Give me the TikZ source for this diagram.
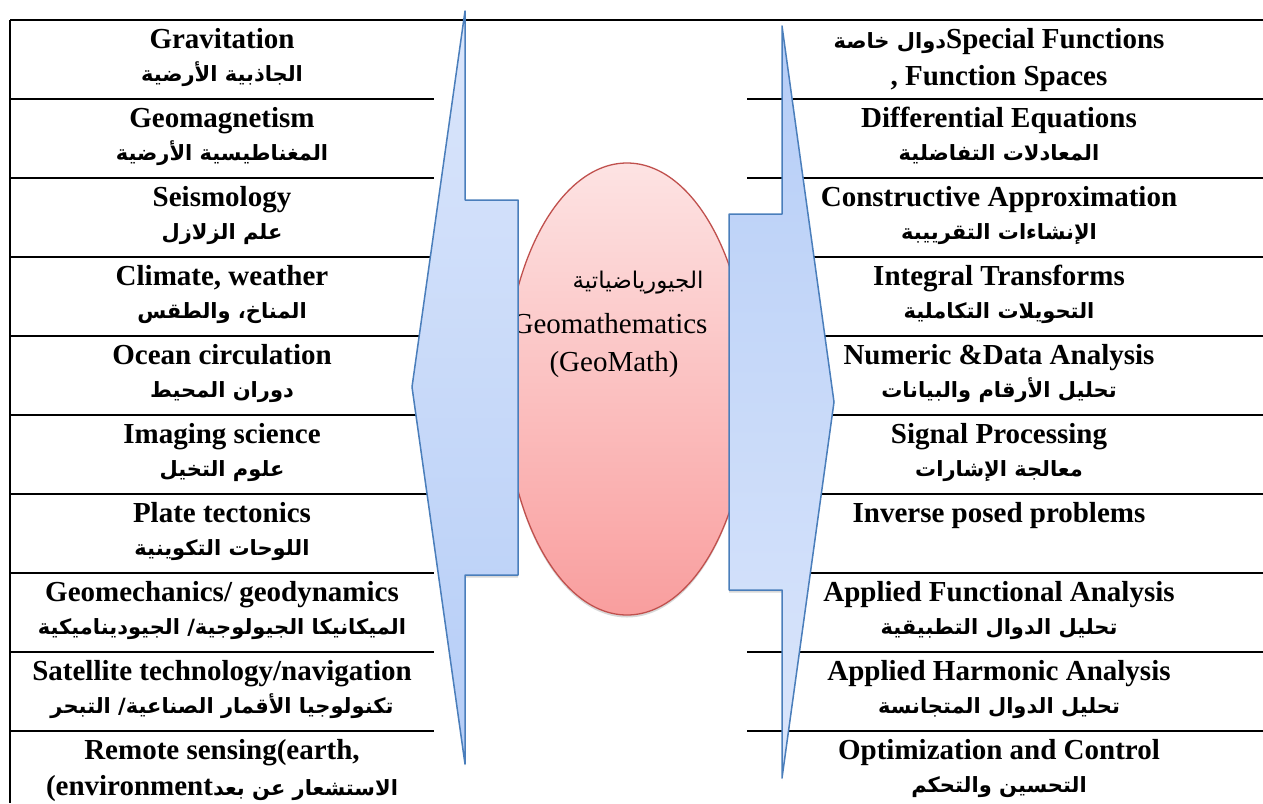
\documentclass[tikz,border=0pt]{standalone}
\usepackage{fontspec}
\setmainfont{Liberation Serif}
\newfontfamily\arabicfont[Script=Arabic]{DejaVu Sans}
\TeXXeTstate=1
\usetikzlibrary{shadows}

\definecolor{arrowline}{RGB}{74,126,187}
\definecolor{arrowlight}{RGB}{219,230,251}
\definecolor{arrowdark}{RGB}{181,205,247}
\definecolor{eggline}{RGB}{192,80,77}
\definecolor{egglight}{RGB}{253,227,227}
\definecolor{eggdark}{RGB}{249,158,158}

% right-to-left Arabic run
\newcommand\artext[1]{{\arabicfont\beginR #1\endR}}
\newcommand\arbold{\arabicfont\fontsize{21}{21}\selectfont\bfseries}

\tikzset{
  rule/.style={line width=1.5pt, black},
  entxt/.style={font=\fontsize{29}{29}\selectfont\bfseries, anchor=base, inner sep=0pt},
  artxt/.style={font=\arbold, anchor=base, inner sep=0pt},
  centertxt/.style={font=\fontsize{29}{29}\selectfont, anchor=base, inner sep=0pt},
  centerar/.style={font=\arabicfont\fontsize{23}{23}\selectfont, anchor=base, inner sep=0pt},
  arrowshape/.style={draw=arrowline, line width=1.5pt, line join=round,
    drop shadow={shadow xshift=0pt, shadow yshift=-2.5pt, opacity=.25, fill=black!60}},
}

\begin{document}
\begin{tikzpicture}[x=1pt, y=-1pt]
\useasboundingbox (0,0) rectangle (1263,803);
\fill[white] (0,0) rectangle (1263,803);

% table rules
\draw[rule] (10,20) -- (1263,20);
\draw[rule] (10,20) -- (10,803);
\foreach \i in {1,...,9}{
  \draw[rule] (10,{20+79*\i}) -- (434,{20+79*\i});
  \draw[rule] (747,{20+79*\i}) -- (1263,{20+79*\i});
}

% left column: earth-science topics
\foreach \i/\en/\ar in {
  0/Gravitation/الجاذبية الأرضية,
  1/Geomagnetism/المغناطيسية الأرضية,
  2/Seismology/علم الزلازل,
  3/{Climate, weather}/المناخ، والطقس,
  4/Ocean circulation/دوران المحيط,
  5/Imaging science/علوم التخيل,
  6/Plate tectonics/اللوحات التكوينية,
  7/{Geomechanics/ geodynamics}/{الميكانيكا الجيولوجية/ الجيوديناميكية},
  8/{Satellite technology/navigation}/{تكنولوجيا الأقمار الصناعية/ التبحر}}{
  \node[entxt] (L\i en) at (222,{48+79*\i}) {\en};
  \node[artxt] (L\i ar) at (222,{81+79*\i}) {\artext{\ar}};
}
\node[entxt] (L9en) at (222,{48+79*9}) {Remote sensing(earth,};
\node[entxt] (L9ar) at (222,{84+79*9}) {(environment{\arbold\beginR الاستشعار عن بعد\endR}};

% right column: mathematical tools
\node[entxt] (R0en) at (999,48) {{\arbold\beginR دوال خاصة\endR}Special Functions};
\node[entxt] (R0ar) at (999,85) {, Function Spaces};
\foreach \i/\en/\ar in {
  1/Differential Equations/المعادلات التفاضلية,
  2/Constructive Approximation/الإنشاءات التقرييبة,
  3/Integral Transforms/التحويلات التكاملية,
  4/Numeric \&Data Analysis/تحليل الأرقام والبيانات,
  5/Signal Processing/معالجة الإشارات,
  7/Applied Functional Analysis/تحليل الدوال التطبيقية,
  8/Applied Harmonic Analysis/تحليل الدوال المتجانسة,
  9/Optimization and Control/التحسين والتحكم}{
  \node[entxt] (R\i en) at (999,{48+79*\i}) {\en};
  \node[artxt] (R\i ar) at (999,{81+79*\i}) {\artext{\ar}};
}
\node[entxt] (R6en) at (999,{48+79*6}) {Inverse posed problems};

% central ellipse
\path[draw=eggline, line width=1.3pt, top color=egglight, bottom color=eggdark,
  drop shadow={shadow xshift=0pt, shadow yshift=-2.5pt, opacity=.25, fill=black!60}]
  (627,389) ellipse [x radius=122pt, y radius=226pt];
\node[centerar] (cAr) at (638,288) {\artext{الجيورياضياتية}};
\node[centertxt] (cEn) at (610,333) {Geomathematics};
\node[centertxt] (cAbbr) at (614,371) {(GeoMath)};

% left double-pointed callout
\path[arrowshape, top color=arrowlight, bottom color=arrowdark]
  (465,11) -- (412,387) -- (465,764) -- (465,575) -- (518,575)
  -- (518,200) -- (465,200) -- cycle;

% right double-pointed callout
\path[arrowshape, top color=arrowdark, bottom color=arrowlight]
  (782,26) -- (834,402) -- (782,778) -- (782,590) -- (729,590)
  -- (729,214) -- (782,214) -- cycle;
\end{tikzpicture}
\end{document}
